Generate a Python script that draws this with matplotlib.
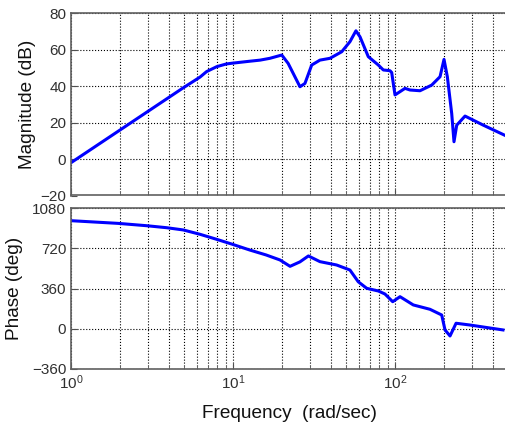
import numpy as np
import matplotlib
matplotlib.use('Agg')
import matplotlib.pyplot as plt
from matplotlib.ticker import LogLocator, FixedLocator

plt.rcParams['font.family'] = ['Liberation Sans', 'DejaVu Sans']
plt.rcParams['mathtext.fontset'] = 'custom'
plt.rcParams['mathtext.rm'] = 'Liberation Sans'

# Magnitude response
mag_freq = [1.0, 1.95, 4.91, 5.5, 6.26, 6.87, 7.93, 9.1, 9.86, 12.7, 14.7, 16.9, 20.0,
            21.9, 25.9, 27.8, 30.6, 34.4, 39.7, 46.9, 52.7, 57.4, 60.8, 68.4, 78.9,
            84.7, 93.1, 95.4, 100.0, 107.4, 115.3, 123.8, 142.7, 168.5, 189.7, 200.7,
            210.4, 223.9, 231.3, 240.4, 270.6, 350.9, 477.6]
mag_db = [-2, 15.2, 39, 41.8, 45, 48, 50.7, 52.2, 52.6, 53.7, 54.3, 55.3, 57.1,
          52.5, 39.7, 41.5, 51.6, 54.3, 55.3, 58.9, 64.4, 70.4, 67.1, 56.2, 51.6,
          48.9, 48.5, 47.5, 35.2, 37, 38.8, 37.9, 37.5, 40.6, 45.2, 54.7,
          45.2, 25, 9.5, 18.6, 23.6, 18.6, 13]

# Phase response
ph_freq = [1.0, 1.95, 2.93, 3.9, 4.93, 6.26, 7.93, 9.8, 12.7, 16.0, 19.5, 22.5, 25.9,
           29.2, 34.4, 43.6, 52.7, 59.3, 66.9, 78.9, 86.7, 96.8, 107.4, 129.7, 164.4,
           194.2, 203.6, 218.6, 238.2, 290.4, 464.0]
ph_deg = [969, 945, 924, 906, 886, 847, 802, 760, 706, 662, 617, 560, 600,
          653, 602, 572, 527, 422, 363, 339, 312, 243, 288, 214, 175,
          124, -10, -64, 50, 34, -10]

mag_ticks = [-20, 0, 20, 40, 60, 80]
ph_ticks = [-360, 0, 360, 720, 1080]

W, H = 505, 425
fig = plt.figure(figsize=(W / 100, H / 100), dpi=100)

x0 = 71 / W
x1 = (71 + np.log10(500) * 162) / W
ax1 = fig.add_axes([x0, 1 - 195.5 / H, x1 - x0, (195.5 - 13.3) / H])
ax2 = fig.add_axes([x0, 1 - 369 / H, x1 - x0, (369 - 208.3) / H])

ax1.semilogx(mag_freq, mag_db, color='#0000ff', lw=2.2)
ax2.semilogx(ph_freq, ph_deg, color='#0000ff', lw=2.2)

ax1.set_ylim(-20, 80)
ax2.set_ylim(-360, 1080)
ax1.yaxis.set_major_locator(FixedLocator(mag_ticks))
ax2.yaxis.set_major_locator(FixedLocator(ph_ticks))

for ax in (ax1, ax2):
    ax.set_xlim(1, 500)
    ax.xaxis.set_major_locator(LogLocator(base=10))
    ax.xaxis.set_minor_locator(LogLocator(base=10, subs=np.arange(2, 10)))
    ax.grid(True, which='major', color='k', ls=':', lw=0.8)
    ax.grid(True, which='minor', axis='x', color='k', ls=':', lw=0.8)
    ax.tick_params(which='both', direction='in', colors='#505050',
                   labelcolor='#303030', labelsize=11)
    ax.tick_params(which='major', length=4)
    ax.tick_params(which='minor', length=2)
    for s in ax.spines.values():
        s.set_color('#606060')
        s.set_linewidth(1.2)

ax1.tick_params(axis='x', labelbottom=False)

ax1.set_ylabel('Magnitude (dB)', fontsize=13.7, color='#111111')
ax1.yaxis.label.set_va('center')
ax1.yaxis.set_label_coords((28 - 71) / (x1 * W - 71), 0.5)

ax2.set_ylabel('Phase (deg)', fontsize=13.7, color='#111111')
ax2.yaxis.label.set_va('center')
ax2.yaxis.set_label_coords((15 - 71) / (x1 * W - 71), 0.5)

ax2.set_xlabel('Frequency  (rad/sec)', fontsize=13.7, color='#111111')
ax2.xaxis.label.set_va('center')
ax2.xaxis.set_label_coords(0.5, -(413 - 369) / (369 - 208.3))

fig.savefig('out.png', dpi=100)
